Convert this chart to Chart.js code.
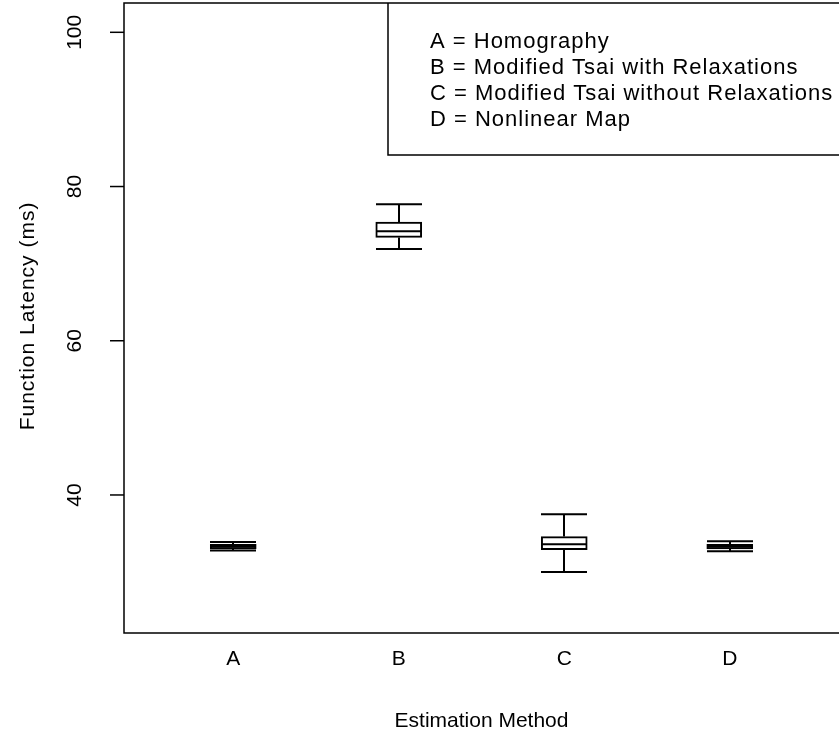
<!DOCTYPE html>
<html>
<head>
<meta charset="utf-8">
<title>Function Latency by Estimation Method</title>
<script src="https://cdn.jsdelivr.net/npm/chart.js@4.4.1/dist/chart.umd.min.js"></script>
<style>
  html, body { margin: 0; padding: 0; background: #fff; }
  #wrap { width: 839px; height: 753px; }
</style>
</head>
<body>
<div id="wrap"><canvas id="latencyChart" width="839" height="753"></canvas></div>
<script>
// Box plot summaries (ms) per estimation method
const methods = ['A', 'B', 'C', 'D'];
const methodNames = [
  'Homography',
  'Modified Tsai with Relaxations',
  'Modified Tsai without Relaxations',
  'Nonlinear Map'
];
const whiskerLow = [32.8, 71.9, 30.0, 32.7];
const q1 = [33.0, 73.4, 32.9, 33.0];
const median = [33.3, 74.2, 33.6, 33.3];
const q3 = [33.6, 75.4, 34.6, 33.6];
const whiskerHigh = [33.9, 77.7, 37.5, 34.0];
const yTicks = [40, 60, 80, 100];

const FONT = '21px "Liberation Sans", Arial, sans-serif';
const KEY_FONT = '22px "Liberation Sans", Arial, sans-serif';
const BOX_HALF = 23;

// whiskers, medians, axes and key drawn on top of the box bodies
const boxPlotExtras = {
  id: 'boxPlotExtras',
  afterDatasetsDraw(chart) {
    const { ctx, chartArea, scales: { x, y } } = chart;
    ctx.save();
    ctx.strokeStyle = '#000';
    ctx.lineWidth = 2;
    ctx.lineCap = 'butt';

    methods.forEach((m, i) => {
      const cx = Math.round(x.getPixelForValue(i + 1));
      const yMed = y.getPixelForValue(median[i]);
      const yQ1 = y.getPixelForValue(q1[i]);
      const yQ3 = y.getPixelForValue(q3[i]);
      const yLo = y.getPixelForValue(whiskerLow[i]);
      const yHi = y.getPixelForValue(whiskerHigh[i]);
      ctx.beginPath();
      // median
      ctx.moveTo(cx - BOX_HALF, yMed); ctx.lineTo(cx + BOX_HALF, yMed);
      // whisker stems
      ctx.moveTo(cx, yQ3); ctx.lineTo(cx, yHi);
      ctx.moveTo(cx, yQ1); ctx.lineTo(cx, yLo);
      // caps
      ctx.moveTo(cx - BOX_HALF, yHi); ctx.lineTo(cx + BOX_HALF, yHi);
      ctx.moveTo(cx - BOX_HALF, yLo); ctx.lineTo(cx + BOX_HALF, yLo);
      ctx.stroke();
    });

    // plot frame (right side runs off the canvas)
    ctx.lineWidth = 1.5;
    ctx.beginPath();
    ctx.moveTo(chartArea.right + 2, chartArea.top);
    ctx.lineTo(chartArea.left, chartArea.top);
    ctx.lineTo(chartArea.left, chartArea.bottom);
    ctx.lineTo(chartArea.right + 2, chartArea.bottom);
    ctx.stroke();

    // y ticks and rotated labels
    ctx.fillStyle = '#000';
    ctx.font = FONT;
    ctx.textAlign = 'center';
    ctx.textBaseline = 'middle';
    yTicks.forEach(v => {
      const py = y.getPixelForValue(v);
      ctx.beginPath();
      ctx.moveTo(chartArea.left - 14, py);
      ctx.lineTo(chartArea.left, py);
      ctx.stroke();
      ctx.save();
      ctx.translate(chartArea.left - 49, py);
      ctx.rotate(-Math.PI / 2);
      ctx.fillText(String(v), 0, 0);
      ctx.restore();
    });

    // x category labels
    methods.forEach((m, i) => {
      ctx.fillText(m, x.getPixelForValue(i + 1), chartArea.bottom + 26);
    });

    // axis titles, centred on the plot region
    const midX = x.getPixelForValue(2.5);
    ctx.fillText('Estimation Method', midX, chartArea.bottom + 88);
    ctx.save();
    ctx.translate(28, 316);
    ctx.rotate(-Math.PI / 2);
    ctx.letterSpacing = '1px';
    ctx.fillText('Function Latency (ms)', 0, 0);
    ctx.restore();

    // key box in the top right corner
    ctx.lineWidth = 1.5;
    ctx.beginPath();
    ctx.moveTo(388, chartArea.top);
    ctx.lineTo(388, 155);
    ctx.lineTo(chart.width + 2, 155);
    ctx.stroke();
    ctx.font = KEY_FONT;
    ctx.letterSpacing = '1px';
    ctx.textAlign = 'left';
    methods.forEach((m, i) => {
      ctx.fillText(m + ' = ' + methodNames[i], 430, 42 + i * 26);
    });

    ctx.restore();
  }
};

const ctx = document.getElementById('latencyChart').getContext('2d');
new Chart(ctx, {
  type: 'bar',
  data: {
    datasets: [{
      label: 'Function Latency',
      data: methods.map((m, i) => ({ x: i + 1, y: [q1[i], q3[i]] })),
      backgroundColor: '#fff',
      borderColor: '#000',
      borderWidth: 2,
      borderSkipped: false,
      barThickness: BOX_HALF * 2
    }]
  },
  options: {
    responsive: false,
    animation: false,
    layout: { padding: { left: 124, top: 3, right: 0, bottom: 120 } },
    plugins: {
      legend: { display: false },
      tooltip: { enabled: false }
    },
    scales: {
      x: { type: 'linear', offset: false, min: 0.34, max: 4.66, display: false },
      y: { min: 22.1, max: 103.8, display: false }
    }
  },
  plugins: [boxPlotExtras]
});
</script>
</body>
</html>
